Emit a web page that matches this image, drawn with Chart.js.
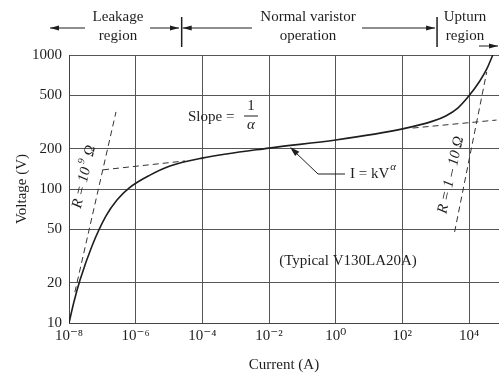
<!DOCTYPE html>
<html><head><meta charset="utf-8">
<script src="https://cdn.jsdelivr.net/npm/chart.js@4/dist/chart.umd.min.js"></script>
<style>html,body{margin:0;padding:0;background:#fff}</style>
</head><body>
<canvas id="c" width="499" height="373"></canvas>
<script>
// V-I characteristic
const currentA = [1e-8, 1.41e-8, 2.14e-8, 4.9e-8, 1.29e-7, 2.75e-7, 6.3e-7, 2.69e-6, 1.07e-5, 9.7e-5, 1e-2, 1, 102, 822, 2010, 4610, 9860, 2.11e4, 3.42e4, 5.18e4];
const voltageV = [10, 14.4, 20.9, 37.6, 63, 82.8, 101.6, 127, 148.6, 170, 202, 232, 281, 321, 351, 402, 494, 640, 787, 1000];
// dashed construction lines
const leakResI = [1.5e-8, 2.57e-7];
const leakResV = [17, 376];
const slopeLeftI = [1.05e-7, 3.0e-5];
const slopeLeftV = [139, 162];
const slopeRightI = [204, 6.7e4];
const slopeRightV = [285, 327];
const upturnResI = [3.7e3, 3.4e4];
const upturnResV = [47.8, 747];
// axes
const xTickValues = [1e-8, 1e-6, 1e-4, 1e-2, 1, 1e2, 1e4];
const xTickLabels = ['10⁻⁸', '10⁻⁶', '10⁻⁴', '10⁻²', '10⁰', '10²', '10⁴'];
const yTickValues = [10, 20, 50, 100, 200, 500, 1000];
const yTickLabels = ['10', '20', '50', '100', '200', '500', '1000'];
const xMin = 1e-8, xMax = Math.pow(10, 4.9), yMin = 10, yMax = 1000;
// region boundaries (current values)
const regionBounds = [2.4e-5, 1.1e3];

const pts = (xs, ys) => xs.map((v, i) => ({x: v, y: ys[i]}));
const SERIF = '"Liberation Serif", "DejaVu Serif", serif';
const INK = '#1e1e1e';

function arrowHead(ctx, x1, y1, x2, y2, len, wid) {
  const a = Math.atan2(y2 - y1, x2 - x1);
  ctx.beginPath();
  ctx.moveTo(x2, y2);
  ctx.lineTo(x2 - len * Math.cos(a) + wid * Math.sin(a), y2 - len * Math.sin(a) - wid * Math.cos(a));
  ctx.lineTo(x2 - len * Math.cos(a) - wid * Math.sin(a), y2 - len * Math.sin(a) + wid * Math.cos(a));
  ctx.closePath();
  ctx.fill();
}
function arrow(ctx, x1, y1, x2, y2) {
  ctx.beginPath(); ctx.moveTo(x1, y1); ctx.lineTo(x2, y2); ctx.stroke();
  arrowHead(ctx, x1, y1, x2, y2, 9, 2.6);
}

const annot = {
  id: 'annot',
  afterDraw(chart) {
    const {ctx, scales: {x, y}} = chart;
    const X = v => x.getPixelForValue(v), Y = v => y.getPixelForValue(v);
    ctx.save();
    ctx.fillStyle = INK; ctx.strokeStyle = INK; ctx.lineWidth = 1;
    ctx.font = '15px ' + SERIF; ctx.textAlign = 'center'; ctx.textBaseline = 'middle';
    // top region labels
    ctx.fillText('Leakage', 118, 17); ctx.fillText('region', 118, 36);
    ctx.fillText('Normal varistor', 308, 17); ctx.fillText('operation', 308, 36);
    ctx.fillText('Upturn', 465, 17); ctx.fillText('region', 465, 36);
    arrow(ctx, 85, 28, 50, 28);
    arrow(ctx, 150, 28, 179, 28);
    const b1 = X(regionBounds[0]), b2 = X(regionBounds[1]);
    ctx.beginPath(); ctx.moveTo(b1, 17); ctx.lineTo(b1, 47); ctx.moveTo(b2, 17); ctx.lineTo(b2, 47);
    ctx.lineWidth = 1.5; ctx.stroke(); ctx.lineWidth = 1;
    arrow(ctx, 252, 28, b1 + 1, 28);
    arrow(ctx, 362, 28, b2 - 2, 28);
    arrow(ctx, 479, 46, 498, 46);

    // Slope = 1/alpha
    ctx.textAlign = 'left';
    ctx.fillText('Slope =', 188, 117);
    ctx.textAlign = 'center';
    ctx.fillText('1', 251, 106);
    ctx.beginPath(); ctx.moveTo(244, 116); ctx.lineTo(258, 116); ctx.stroke();
    ctx.font = 'italic 15px ' + SERIF;
    ctx.fillText('α', 251, 125);

    // I = kV^alpha with leader
    ctx.font = '15px ' + SERIF;
    ctx.textAlign = 'left';
    ctx.fillText('I = kV', 350, 174);
    const w = ctx.measureText('I = kV').width;
    ctx.font = 'italic 11px ' + SERIF;
    ctx.fillText('α', 350 + w + 1, 167);
    ctx.beginPath(); ctx.moveTo(345, 174); ctx.lineTo(318, 174); ctx.lineTo(294, 151); ctx.stroke();
    arrowHead(ctx, 318, 174, 290, 147, 10, 3);

    // typical part
    ctx.font = '15px ' + SERIF; ctx.textAlign = 'center';
    ctx.fillText('(Typical V130LA20A)', 348, 261);

    // rotated resistance labels
    ctx.save();
    ctx.translate(83, 182); ctx.rotate(-77 * Math.PI / 180);
    ctx.font = 'italic 15px ' + SERIF; ctx.textAlign = 'center';
    ctx.fillText('R = 10', -6, 0);
    ctx.font = 'italic 10px ' + SERIF; ctx.fillText('9', 20, -6);
    ctx.font = 'italic 15px ' + SERIF; ctx.fillText('Ω', 32, 0);
    ctx.restore();
    ctx.save();
    ctx.translate(451, 175); ctx.rotate(-77.5 * Math.PI / 180);
    ctx.font = 'italic 15px ' + SERIF; ctx.textAlign = 'center';
    ctx.fillText('R = 1 – 10 Ω', 0, 0);
    ctx.restore();
    ctx.restore();
  }
};

const dashStyle = {borderColor: '#333', borderWidth: 1, borderDash: [6, 4], pointRadius: 0, fill: false, tension: 0};

new Chart(document.getElementById('c'), {
  type: 'line',
  data: {
    datasets: [
      {data: pts(currentA, voltageV), borderColor: INK, borderWidth: 1.6, pointRadius: 0, fill: false, cubicInterpolationMode: 'monotone'},
      Object.assign({data: pts(leakResI, leakResV)}, dashStyle),
      Object.assign({data: pts(slopeLeftI, slopeLeftV)}, dashStyle),
      Object.assign({data: pts(slopeRightI, slopeRightV)}, dashStyle),
      Object.assign({data: pts(upturnResI, upturnResV)}, dashStyle)
    ]
  },
  options: {
    responsive: false, animation: false, devicePixelRatio: 1,
    layout: {padding: {top: 55, right: 0, left: 0, bottom: 0}},
    plugins: {legend: {display: false}, tooltip: {enabled: false}},
    scales: {
      x: {
        type: 'logarithmic', min: xMin, max: xMax,
        afterBuildTicks: s => { s.ticks = xTickValues.map(v => ({value: v})); },
        afterFit: s => { s.height = 50; },
        ticks: {
          autoSkip: false, maxRotation: 0, padding: 4, color: INK,
          font: {family: SERIF, size: 15},
          callback: v => { const i = xTickValues.indexOf(v); return i >= 0 ? xTickLabels[i] : ''; }
        },
        grid: {color: '#555', lineWidth: 1, drawTicks: false},
        border: {color: '#444', width: 1},
        title: {display: true, text: 'Current (A)', color: INK, font: {family: SERIF, size: 15, lineHeight: 1}, padding: {top: 0, bottom: 0}}
      },
      y: {
        type: 'logarithmic', min: yMin, max: yMax,
        afterBuildTicks: s => { s.ticks = yTickValues.map(v => ({value: v})); },
        afterFit: s => { s.width = 69; },
        ticks: {
          autoSkip: false, padding: 7, color: INK,
          font: {family: SERIF, size: 15},
          callback: v => { const i = yTickValues.indexOf(v); return i >= 0 ? yTickLabels[i] : ''; }
        },
        grid: {color: '#555', lineWidth: 1, drawTicks: false},
        border: {color: '#444', width: 1},
        title: {display: true, text: 'Voltage (V)', color: INK, font: {family: SERIF, size: 15, lineHeight: 1}, padding: {top: 14.5, bottom: 0}}
      }
    }
  },
  plugins: [annot]
});
</script>
</body></html>
